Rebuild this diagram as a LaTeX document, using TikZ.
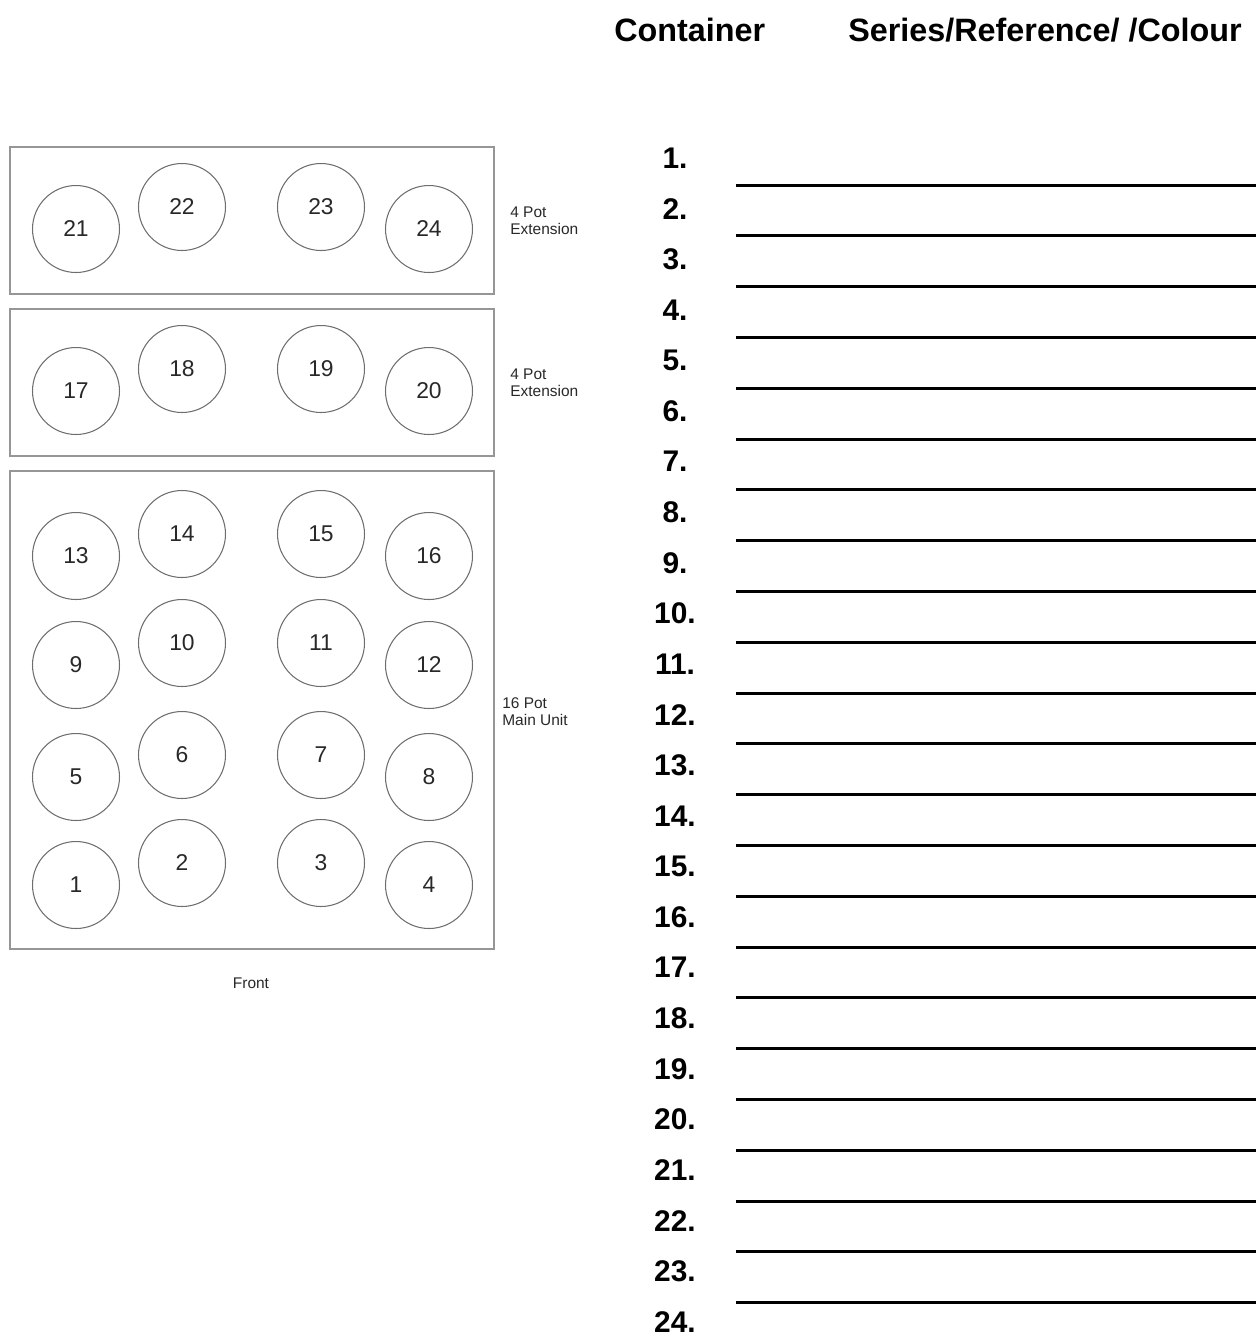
\documentclass[tikz,border=0pt]{standalone}
\usepackage{fontspec}
\setmainfont{Liberation Sans}
\usetikzlibrary{positioning}
\definecolor{boxgray}{RGB}{150,150,150}
\definecolor{potgray}{RGB}{110,110,110}
\definecolor{textgray}{RGB}{40,40,40}

\begin{document}
\begin{tikzpicture}[
    x=0.02cm, y=-0.02cm,
    every node/.style={align=center},
    unit/.style={draw=boxgray, line width=0.8pt},
    pot/.style={circle, draw=potgray, line width=0.6pt, minimum size=1.74cm, inner sep=0pt, text=textgray, font=\fontsize{13}{15}\selectfont},
    side/.style={anchor=west, align=left, inner sep=0pt, text=textgray, font=\fontsize{8.8}{9.7}\selectfont},
    header/.style={anchor=west, inner sep=0pt, font=\fontsize{18.4}{21}\selectfont\bfseries},
    entry/.style={inner sep=0pt, font=\fontsize{17}{19}\selectfont\bfseries},
    fillin/.style={line width=1.7pt}
]
\useasboundingbox (0,0) rectangle (1256,1340);

% Column headers
\node[header] (container_head) at (614,30) {Container};
\node[header] (series_head) at (848,30) {Series/Reference/ /Colour};

% Units
\draw[unit] (10,147) rectangle (494,294);
\draw[unit] (10,309) rectangle (494,456);
\draw[unit] (10,471) rectangle (494,949);

% 4 pot extension (top)
\node[pot] (pot21) at (76,229) {21};
\node[pot] (pot22) at (182,207) {22};
\node[pot] (pot23) at (321,207) {23};
\node[pot] (pot24) at (429,229) {24};
\node[side] (ext_top) at (510,221) {4 Pot\\Extension};

% 4 pot extension
\node[pot] (pot17) at (76,391) {17};
\node[pot] (pot18) at (182,369) {18};
\node[pot] (pot19) at (321,369) {19};
\node[pot] (pot20) at (429,391) {20};
\node[side] (ext_mid) at (510,383) {4 Pot\\Extension};

% 16 pot main unit
\node[pot] (pot13) at (76,556) {13};
\node[pot] (pot14) at (182,534) {14};
\node[pot] (pot15) at (321,534) {15};
\node[pot] (pot16) at (429,556) {16};
\node[pot] (pot9) at (76,665) {9};
\node[pot] (pot10) at (182,643) {10};
\node[pot] (pot11) at (321,643) {11};
\node[pot] (pot12) at (429,665) {12};
\node[pot] (pot5) at (76,777) {5};
\node[pot] (pot6) at (182,755) {6};
\node[pot] (pot7) at (321,755) {7};
\node[pot] (pot8) at (429,777) {8};
\node[pot] (pot1) at (76,885) {1};
\node[pot] (pot2) at (182,863) {2};
\node[pot] (pot3) at (321,863) {3};
\node[pot] (pot4) at (429,885) {4};
\node[side] (main_unit) at (502,712) {16 Pot\\Main Unit};
\node[side, anchor=center] (front) at (251,983) {Front};

% Fill-in list
\foreach \i in {1,...,24} {
    \node[entry] (entry\i) at (675,{158+(\i-1)*50.6}) {\i.};
}
\foreach \i in {1,...,23} {
    \draw[fillin] (736,{185+(\i-1)*50.8}) -- (1256,{185+(\i-1)*50.8});
}

\end{tikzpicture}
\end{document}
